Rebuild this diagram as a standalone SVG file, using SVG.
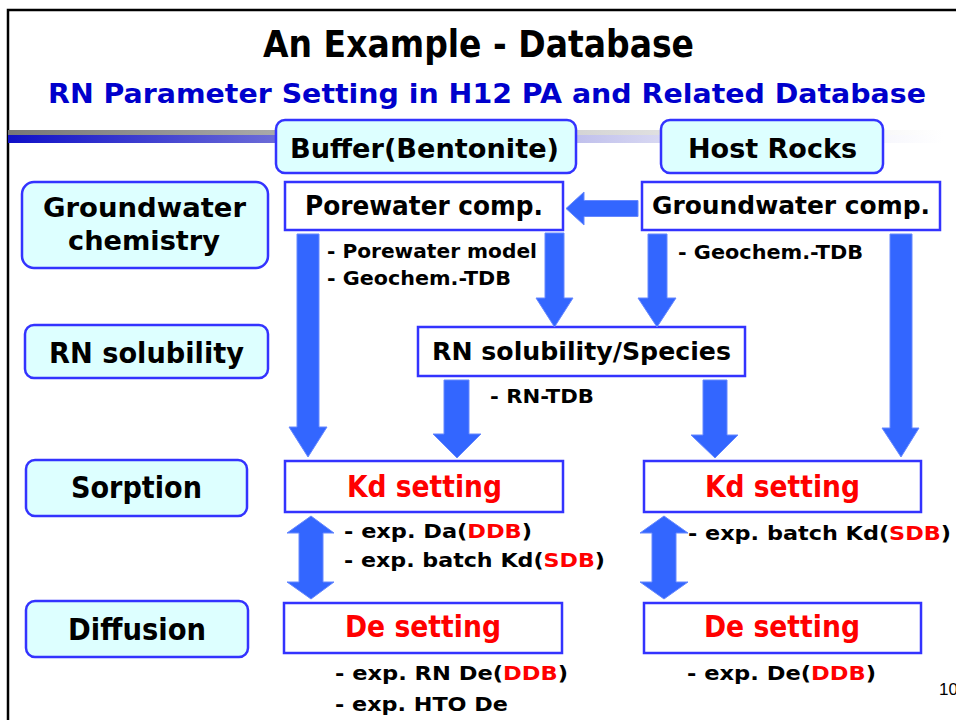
<svg xmlns="http://www.w3.org/2000/svg" width="956" height="720" viewBox="0 0 956 720">
<defs>
<linearGradient id="gGray" x1="0" y1="0" x2="1" y2="0">
<stop offset="0" stop-color="#777777"/>
<stop offset="0.35" stop-color="#b4b4b4"/>
<stop offset="0.7" stop-color="#e0e0e0"/>
<stop offset="1" stop-color="#ffffff"/>
</linearGradient>
<linearGradient id="gBlue" x1="0" y1="0" x2="1" y2="0">
<stop offset="0" stop-color="#1010c8"/>
<stop offset="0.3" stop-color="#7070d8"/>
<stop offset="0.7" stop-color="#d8d8f2"/>
<stop offset="1" stop-color="#ffffff"/>
</linearGradient>
<style>
text{font-family:"DejaVu Sans","Liberation Sans",sans-serif;font-weight:bold;fill:#000}
.hdr{fill:#ddffff;stroke:#3333ff;stroke-width:2.5}
.box{fill:#ffffff;stroke:#3333ff;stroke-width:2.5}
.arr{fill:#3366ff;stroke:#6688ff;stroke-width:1}
.red{fill:#ff0000}
.ann{font-size:20px}
</style>
</defs>
<rect width="956" height="720" fill="#ffffff"/>
<path d="M8,720 V10 H956" fill="none" stroke="#000" stroke-width="2.5"/>
<rect x="8" y="130" width="935" height="5" fill="url(#gGray)"/>
<rect x="8" y="135" width="935" height="8" fill="url(#gBlue)"/>
<text x="263" y="57" font-size="37" textLength="431" lengthAdjust="spacingAndGlyphs">An Example - Database</text>
<text x="48" y="103" font-size="27" textLength="878" lengthAdjust="spacingAndGlyphs" style="fill:#0000cc">RN Parameter Setting in H12 PA and Related Database</text>
<g id="buffer"><rect class="hdr" x="276" y="120" width="300" height="53" rx="9"/><text x="290" y="158" font-size="27" textLength="269" lengthAdjust="spacingAndGlyphs">Buffer(Bentonite)</text></g>
<g id="hostrocks"><rect class="hdr" x="661" y="120" width="222" height="53" rx="9"/><text x="688" y="158" font-size="27" textLength="169" lengthAdjust="spacingAndGlyphs">Host Rocks</text></g>
<g id="gwchem"><rect class="hdr" x="22" y="182" width="246" height="86" rx="12"/><text x="43" y="217" font-size="27" textLength="203" lengthAdjust="spacingAndGlyphs">Groundwater</text><text x="68" y="250" font-size="27" textLength="152" lengthAdjust="spacingAndGlyphs">chemistry</text></g>
<g id="rnsol"><rect class="hdr" x="25" y="325" width="243" height="53" rx="9"/><text x="49" y="363" font-size="29" textLength="195" lengthAdjust="spacingAndGlyphs">RN solubility</text></g>
<g id="sorption"><rect class="hdr" x="26" y="460" width="221" height="56" rx="9"/><text x="71" y="498" font-size="30" textLength="131" lengthAdjust="spacingAndGlyphs">Sorption</text></g>
<g id="diffusion"><rect class="hdr" x="26" y="601" width="222" height="56" rx="9"/><text x="68" y="640" font-size="30" textLength="138" lengthAdjust="spacingAndGlyphs">Diffusion</text></g>
<g id="porewater"><rect class="box" x="285" y="182" width="278" height="48"/><text x="305" y="215" font-size="26" textLength="238" lengthAdjust="spacingAndGlyphs">Porewater comp.</text></g>
<g id="gwcomp"><rect class="box" x="642" y="182" width="298" height="48"/><text x="652" y="214" font-size="25" textLength="278" lengthAdjust="spacingAndGlyphs">Groundwater comp.</text></g>
<g id="rnspecies"><rect class="box" x="418" y="327" width="327" height="49"/><text x="432" y="360" font-size="25" textLength="299" lengthAdjust="spacingAndGlyphs">RN solubility/Species</text></g>
<g id="kdleft"><rect class="box" x="285" y="461" width="278" height="51"/><text x="347" y="497" font-size="31" textLength="155" lengthAdjust="spacingAndGlyphs" class="red">Kd setting</text></g>
<g id="kdright"><rect class="box" x="644" y="461" width="277" height="51"/><text x="705" y="497" font-size="31" textLength="155" lengthAdjust="spacingAndGlyphs" class="red">Kd setting</text></g>
<g id="deleft"><rect class="box" x="284" y="603" width="278" height="50"/><text x="345" y="637" font-size="31" textLength="156" lengthAdjust="spacingAndGlyphs" class="red">De setting</text></g>
<g id="deright"><rect class="box" x="644" y="603" width="277" height="50"/><text x="704" y="637" font-size="31" textLength="156" lengthAdjust="spacingAndGlyphs" class="red">De setting</text></g>
<g id="connectors">
<polygon class="arr" points="566,208.5 584,192 584,200.5 638,200.5 638,216.5 584,216.5 584,225"/>
<polygon class="arr" points="297,234 319,234 319,427 327,427 308,457 289,427 297,427"/>
<polygon class="arr" points="545,233 564,233 564,298 573,298 554.5,327 536,298 545,298"/>
<polygon class="arr" points="648,234 667,234 667,298 676,298 657,327 638,298 648,298"/>
<polygon class="arr" points="890,234 912,234 912,428 919,428 901,457 882,428 890,428"/>
<polygon class="arr" points="444,380 469,380 469,434 481,434 457,458 433,434 444,434"/>
<polygon class="arr" points="703,380 727,380 727,435 738,435 715,458 691,435 703,435"/>
<polygon class="arr" points="311,516 334,533 323,533 323,582 334,582 311,599 287,582 299,582 299,533 287,533"/>
<polygon class="arr" points="664,516 688,533 676,533 676,582 688,582 664,599 640,582 652,582 652,533 640,533"/>
</g>
<g id="annotations">
<text class="ann" x="327" y="258" textLength="210" lengthAdjust="spacingAndGlyphs">- Porewater model</text>
<text class="ann" x="327" y="285" textLength="184" lengthAdjust="spacingAndGlyphs">- Geochem.-TDB</text>
<text class="ann" x="678" y="259" textLength="185" lengthAdjust="spacingAndGlyphs">- Geochem.-TDB</text>
<text class="ann" x="490" y="403" textLength="104" lengthAdjust="spacingAndGlyphs">- RN-TDB</text>
<text class="ann" x="344" y="538" textLength="188" lengthAdjust="spacingAndGlyphs">- exp. Da(<tspan class="red">DDB</tspan>)</text>
<text class="ann" x="344" y="567" textLength="261" lengthAdjust="spacingAndGlyphs">- exp. batch Kd(<tspan class="red">SDB</tspan>)</text>
<text class="ann" x="688" y="540" textLength="263" lengthAdjust="spacingAndGlyphs">- exp. batch Kd(<tspan class="red">SDB</tspan>)</text>
<text class="ann" x="335" y="680" textLength="233" lengthAdjust="spacingAndGlyphs">- exp. RN De(<tspan class="red">DDB</tspan>)</text>
<text class="ann" x="335" y="711" textLength="173" lengthAdjust="spacingAndGlyphs">- exp. HTO De</text>
<text class="ann" x="687" y="680" textLength="189" lengthAdjust="spacingAndGlyphs">- exp. De(<tspan class="red">DDB</tspan>)</text>
<text x="939" y="695" font-size="17" style="font-weight:normal;font-family:'Liberation Sans',sans-serif">10</text>
</g>
</svg>
